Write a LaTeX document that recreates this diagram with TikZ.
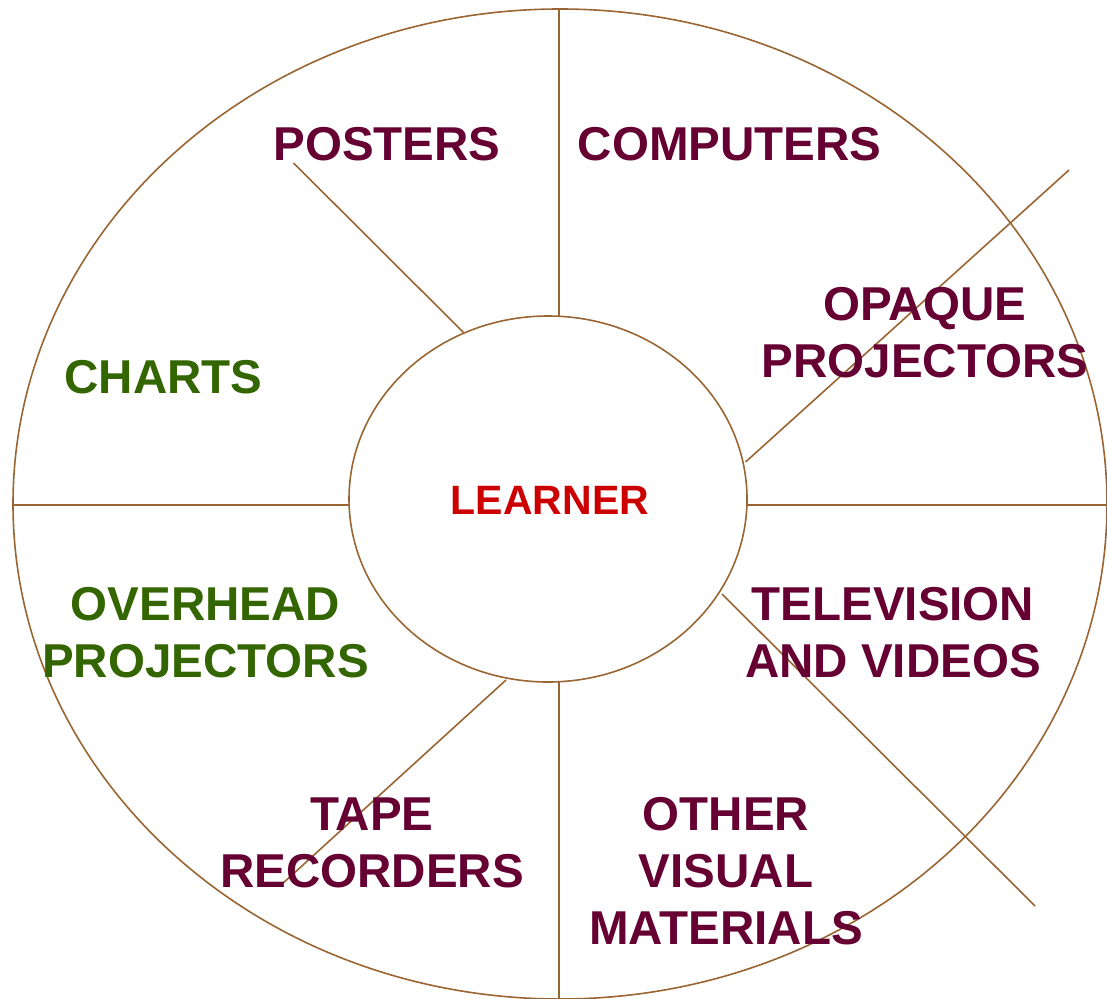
\documentclass[tikz,border=0pt]{standalone}
\usepackage{fontspec}
\setmainfont{Liberation Sans}
\usetikzlibrary{shapes.geometric}
\definecolor{linebrown}{RGB}{153,102,51}
\definecolor{maroon}{RGB}{102,0,51}
\definecolor{leafgreen}{RGB}{51,102,0}
\definecolor{learnred}{RGB}{204,0,0}
\begin{document}
\begin{tikzpicture}[x=1pt,y=-1pt,
  rim/.style={draw=linebrown,line width=1.6pt},
  spoke/.style={draw=linebrown,line width=1.6pt},
  lbl/.style={font=\fontsize{47.5}{57}\selectfont\bfseries,align=center,inner sep=0pt,anchor=center},
  mlbl/.style={lbl,text=maroon},
  glbl/.style={lbl,text=leafgreen}]
\useasboundingbox (0,0) rectangle (1107,998);
% outer ring and inner circle
\node[rim,ellipse,minimum width=1094pt,minimum height=990pt,inner sep=0pt] (outer) at (560,504) {};
\node[rim,ellipse,minimum width=398pt,minimum height=366pt,inner sep=0pt] (learner) at (548,499) {};
% spoke end points
\coordinate (vtI) at (559,316.3);
\coordinate (vtO) at (559,9);
\coordinate (vbI) at (559,681.7);
\coordinate (vbO) at (559,1000);
\coordinate (hlI) at (349.1,505);
\coordinate (hlO) at (13,505);
\coordinate (hrI) at (746.9,505);
\coordinate (hrO) at (1110,505);
\coordinate (psI) at (464,333);
\coordinate (psO) at (293.5,163);
\coordinate (opI) at (745.5,462);
\coordinate (opO) at (1069,170);
\coordinate (tvI) at (722,594);
\coordinate (tvO) at (1035,906);
\coordinate (tpI) at (506,680);
\coordinate (tpO) at (281,885);
\draw[spoke] (vtI) -- (vtO);
\draw[spoke] (vbI) -- (vbO);
\draw[spoke] (hlI) -- (hlO);
\draw[spoke] (hrI) -- (hrO);
\draw[spoke] (psI) -- (psO);
\draw[spoke] (opI) -- (opO);
\draw[spoke] (tvI) -- (tvO);
\draw[spoke] (tpI) -- (tpO);
% labels
\node[lbl,text=learnred,font=\fontsize{41}{49}\selectfont\bfseries] (lt) at (550,500.5) {LEARNER};
\node[mlbl] (posters) at (387,144.5) {POSTERS};
\node[mlbl] (computers) at (729.5,144.5) {COMPUTERS};
\node[mlbl] (opaque) at (925,333) {OPAQUE\\PROJECTORS};
\node[glbl] (charts) at (163.5,377.5) {CHARTS};
\node[glbl] (overhead) at (205.5,633) {OVERHEAD\\PROJECTORS};
\node[mlbl] (tv) at (893,633) {TELEVISION\\AND VIDEOS};
\node[mlbl] (tape) at (372,843) {TAPE\\RECORDERS};
\node[mlbl] (other) at (726,871) {OTHER\\VISUAL\\MATERIALS};
\end{tikzpicture}
\end{document}
